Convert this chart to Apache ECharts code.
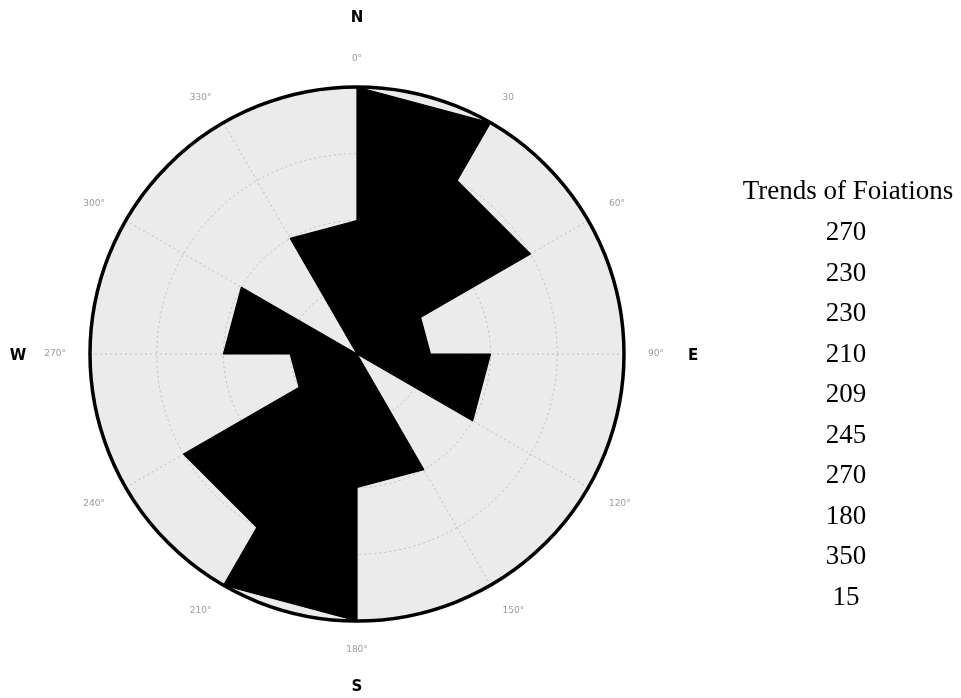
<!DOCTYPE html>
<html>
<head>
<meta charset="utf-8">
<script src="https://cdn.jsdelivr.net/npm/echarts@6/dist/echarts.min.js"></script>
<style>
html,body{margin:0;padding:0;background:#fff;}
#chart{width:961px;height:698px;}
</style>
</head>
<body>
<div id="chart"></div>
<script>
// Bin start angles (degrees, clockwise from North), bin width 30
const binStarts = [0, 30, 60, 90, 120, 150, 180, 210, 240, 270, 300, 330];
const binWidth = 30;
// Counts per bin (radius scale 0-4)
const counts = [4, 3, 1.1, 2, 0, 2, 4, 3, 1, 2, 0, 2];
// Angle tick labels
const angleTicks = [0, 30, 60, 90, 120, 150, 180, 210, 240, 270, 300, 330];
const angleLabels = ['0°', '30', '60°', '90°', '120°', '150°', '180°', '210°', '240°', '270°', '300°', '330°'];
// Compass letters
const compass = ['N', 'E', 'S', 'W'];
// Side table
const tableTitle = 'Trends of Foiations';
const trends = [270, 230, 230, 210, 209, 245, 270, 180, 350, 15];

const chart = echarts.init(document.getElementById('chart'));
const cx = 357, cy = 354, R = 267;

const wedgeData = binStarts.map((s, i) => [s, s + binWidth, counts[i]]);

const graphics = [];
const compassPos = [[cx, 18], [693, 356], [cx, 687], [18, 356]];
compass.forEach((t, i) => {
  graphics.push({
    type: 'text', x: compassPos[i][0], y: compassPos[i][1],
    style: { text: t, font: 'bold 15px "DejaVu Sans", sans-serif', fill: '#000', textAlign: 'center', textVerticalAlign: 'middle' }
  });
});
graphics.push({
  type: 'text', x: 848, y: 192,
  style: { text: tableTitle, font: '27px "Liberation Serif", serif', fill: '#000', textAlign: 'center', textVerticalAlign: 'middle' }
});
trends.forEach((v, i) => {
  graphics.push({
    type: 'text', x: 846, y: 233 + i * 40.5,
    style: { text: String(v), font: '27px "Liberation Serif", serif', fill: '#000', textAlign: 'center', textVerticalAlign: 'middle' }
  });
});

chart.setOption({
  animation: false,
  backgroundColor: '#fff',
  polar: { center: [cx, cy], radius: R },
  angleAxis: {
    type: 'value', min: 0, max: 360, interval: 30, startAngle: 90, clockwise: true,
    axisLine: { show: true, lineStyle: { color: '#000', width: 3.5 } },
    axisTick: { show: false },
    axisLabel: {
      margin: 24, color: '#9a9a9a', fontSize: 9, fontFamily: 'DejaVu Sans',
      formatter: function (v) { const k = angleTicks.indexOf(v); return k >= 0 ? angleLabels[k] : ''; }
    },
    splitLine: { show: true, lineStyle: { color: '#b0b0b0', width: 0.8, type: [2, 3] } }
  },
  radiusAxis: {
    type: 'value', min: 0, max: 4, interval: 1,
    axisLine: { show: false }, axisTick: { show: false }, axisLabel: { show: false },
    splitLine: { show: true, lineStyle: { color: '#b0b0b0', width: 0.8, type: [2, 3] } }
  },
  series: [
    {
      type: 'custom', coordinateSystem: 'polar', z: -1, silent: true,
      data: [[0, 360, 4]],
      renderItem: function (params, api) {
        const c = api.coord([0, 0]);
        const p = api.coord([api.value(2), 0]);
        const r = Math.hypot(p[0] - c[0], p[1] - c[1]);
        return { type: 'circle', shape: { cx: c[0], cy: c[1], r: r }, style: { fill: '#ebebeb' } };
      }
    },
    {
      type: 'custom', coordinateSystem: 'polar', z: 2, silent: true,
      data: wedgeData,
      renderItem: function (params, api) {
        const a0 = api.value(0), a1 = api.value(1), v = api.value(2);
        if (!v) return null;
        const c = api.coord([0, a0]);
        const p1 = api.coord([v, a0]);
        const p2 = api.coord([v, a1]);
        return { type: 'polygon', shape: { points: [c, p1, p2] }, style: { fill: '#000', stroke: '#000', lineWidth: 1.2, lineJoin: 'round' } };
      }
    }
  ],
  graphic: graphics
});
</script>
</body>
</html>
